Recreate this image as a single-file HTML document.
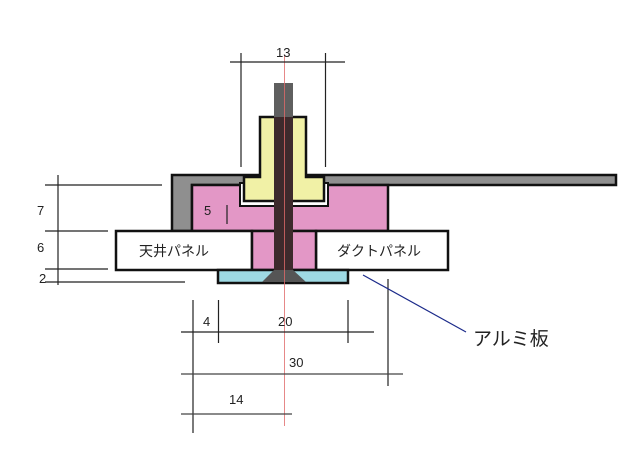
<!DOCTYPE html>
<html><head><meta charset="utf-8"><style>
html,body{margin:0;padding:0;background:#fff;width:640px;height:454px;overflow:hidden}
svg{display:block}
text{font-family:"Liberation Sans","Noto Sans CJK JP",sans-serif;fill:#222}
</style></head><body>
<svg width="640" height="454" viewBox="0 0 640 454">
<!-- gray channel -->
<polygon points="172,175 260,175 260,185 192,185 192,231 172,231" fill="#8f8f8f" stroke="#111" stroke-width="2.5"/>
<rect x="306" y="175" width="310" height="10" fill="#8f8f8f" stroke="#111" stroke-width="2.5"/>
<!-- pink block -->
<rect x="192" y="185" width="196" height="46" fill="#e397c6" stroke="#111" stroke-width="2.5"/>
<rect x="240" y="183" width="88" height="23" fill="#fff" stroke="#111" stroke-width="2"/>
<polygon points="260,117 306,117 306,177 324,177 324,201 244,201 244,177 260,177" fill="#f1f1a6" stroke="#111" stroke-width="2.5"/>
<!-- panels -->
<rect x="116" y="231" width="136" height="39" fill="#fff" stroke="#111" stroke-width="2.5"/>
<rect x="316" y="231" width="132" height="39" fill="#fff" stroke="#111" stroke-width="2.5"/>
<rect x="252" y="231" width="64" height="39" fill="#e397c6" stroke="#111" stroke-width="2.5"/>
<rect x="218" y="270" width="130" height="13" fill="#9ed9e3" stroke="#111" stroke-width="2.5"/>
<!-- bolt -->
<rect x="274" y="83" width="19" height="34" fill="#5f5f5f"/>
<rect x="274" y="117" width="19" height="153" fill="#3d2a2c"/>
<polygon points="274,270 293,270 306,282 262,282" fill="#555"/>
<!-- center line -->
<line x1="284.5" y1="55" x2="284.5" y2="426" stroke="#e06a6a" stroke-width="0.8"/>
<!-- dims top -->
<g stroke="#222" stroke-width="1.2" fill="none">
<line x1="230" y1="62" x2="345" y2="62"/>
<line x1="241" y1="53" x2="241" y2="167"/>
<line x1="325.5" y1="53" x2="325.5" y2="167"/>
<line x1="58" y1="175" x2="58" y2="285"/>
<line x1="45" y1="185" x2="162" y2="185"/>
<line x1="45" y1="231" x2="108" y2="231"/>
<line x1="45" y1="269" x2="108" y2="269"/>
<line x1="45" y1="282" x2="185" y2="282"/>
<line x1="227" y1="205" x2="227" y2="224"/>
<line x1="193" y1="300" x2="193" y2="433"/>
<line x1="218.5" y1="300" x2="218.5" y2="343"/>
<line x1="348" y1="300" x2="348" y2="343"/>
<line x1="388" y1="279" x2="388" y2="386"/>
<line x1="181" y1="332" x2="374" y2="332"/>
<line x1="181" y1="374" x2="403" y2="374" stroke="#444"/>
<line x1="181" y1="414" x2="292" y2="414" stroke="#444"/>
</g>
<line x1="363" y1="275" x2="466" y2="332" stroke="#1b2a8a" stroke-width="1.2"/>
<g font-size="13">
<text x="276" y="57">13</text>
<text x="37" y="215">7</text>
<text x="37" y="252">6</text>
<text x="39" y="283">2</text>
<text x="204" y="215">5</text>
<text x="203" y="326">4</text>
<text x="278" y="326">20</text>
<text x="289" y="367">30</text>
<text x="229" y="404">14</text>
</g>
<text x="139" y="256" font-size="14">天井パネル</text>
<text x="337" y="256" font-size="14">ダクトパネル</text>
<text x="473" y="345" font-size="19">アルミ板</text>
</svg>
</body></html>
